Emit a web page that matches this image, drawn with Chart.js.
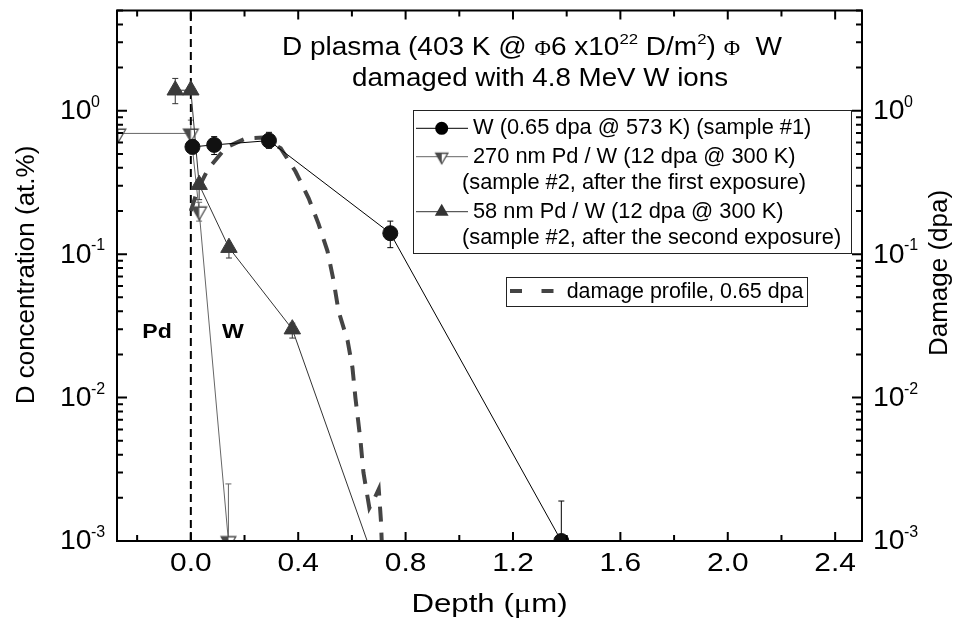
<!DOCTYPE html>
<html>
<head>
<meta charset="utf-8">
<script src="https://cdn.jsdelivr.net/npm/chart.js@4.4.1/dist/chart.umd.min.js"></script>
<style>
  html, body { margin: 0; padding: 0; background: #fff; }
  #wrap { width: 967px; height: 626px; }
</style>
</head>
<body>
<div id="wrap"><canvas id="chart"></canvas></div>
<script>

// ---- data ----

// W (0.65 dpa @ 573 K) (sample #1)
const wDepth = [0.006, 0.087, 0.291, 0.743, 1.38];
const wConc  = [0.56, 0.578, 0.619, 0.140, 0.001];
const wErrHi = [0.63, 0.66, 0.707, 0.17, 0.0019];
const wErrLo = [0.50, 0.495, 0.547, 0.111, 0.001];

// 270 nm Pd / W (12 dpa @ 300 K), first exposure
const pd270Depth = [-0.27, 0.0, 0.031, 0.14];
const pd270Conc  = [0.695, 0.695, 0.199, 0.001];
const pd270ErrHi = [null, 0.86, 0.23, 0.0025];
const pd270ErrLo = [null, 0.60, 0.17, 0.001];

// 58 nm Pd / W (12 dpa @ 300 K), second exposure
const pd58Depth = [-0.058, 0.0, 0.031, 0.142, 0.378, 0.657];
const pd58Conc  = [1.39, 1.39, 0.305, 0.111, 0.030, 0.001];
const pd58ErrHi = [1.68, null, 0.33, 0.12, 0.033, null];
const pd58ErrLo = [1.12, null, 0.24, 0.094, 0.026, null];

// damage profile, 0.65 dpa (right axis)
const dmgDepth = [0.0, 0.025, 0.063, 0.13, 0.204, 0.268, 0.335, 0.39, 0.439, 0.476, 0.509,
                  0.532, 0.55, 0.584, 0.602, 0.613, 0.632, 0.643, 0.665, 0.685, 0.70, 0.708, 0.712];
const dmgDpa   = [0.20, 0.28, 0.389, 0.553, 0.64, 0.65, 0.547, 0.377, 0.245, 0.162, 0.105,
                  0.065, 0.0402, 0.0249, 0.0162, 0.010, 0.0050, 0.0030, 0.0017, 0.0020, 0.0023, 0.0014, 0.0009];

// Pd / W interface
const interfaceDepth = [0, 0];
const interfaceConc  = [0.001, 5];

// axes
const xMin = -0.275, xMax = 2.5;
const yMin = 0.001, yMax = 5;
const xTickValues = [0, 0.4, 0.8, 1.2, 1.6, 2.0, 2.4];
const xTickLabels = ['0.0', '0.4', '0.8', '1.2', '1.6', '2.0', '2.4'];
const xMinorValues = [-0.2, 0.2, 0.6, 1.0, 1.4, 1.8, 2.2];
const yTickValues = [0.001, 0.01, 0.1, 1];
const yTickExps = ['-3', '-2', '-1', '0'];


const SANS = "'Liberation Sans', Arial, sans-serif";
const SERIF = "'Liberation Serif', 'Times New Roman', serif";


/**
* Build {x, y} points from two arrays.
*/
function points(xs, ys) {
    return xs.map((x, i) => ({ x: x, y: ys[i] }));
}


/**
* Half filled, downward triangle used for the 270 nm series.
*/
function halfTriangle(r) {
    const size = Math.ceil(2 * r + 4);
    const c = document.createElement('canvas');
    c.width = size;
    c.height = size;
    const g = c.getContext('2d');
    const cx = size / 2, cy = size / 2;
    g.beginPath();
    g.moveTo(cx - r * 0.866, cy - r * 0.5);
    g.lineTo(cx + r * 0.866, cy - r * 0.5);
    g.lineTo(cx, cy + r);
    g.closePath();
    g.fillStyle = '#fff';
    g.fill();
    g.save();
    g.clip();
    g.fillStyle = '#4a4a4a';
    g.fillRect(0, 0, cx, size);
    g.restore();
    g.strokeStyle = '#4a4a4a';
    g.lineWidth = 1.3;
    g.stroke();
    return c;
}

const downTri = halfTriangle(8.5);
const downTriSmall = halfTriangle(7);


/**
* Draw a run of text pieces (font changes, superscripts), stretched by sx.
*/
function textRun(ctx, parts, x, y, align, sx) {
    let total = 0;
    const widths = parts.map(p => {
        ctx.font = p[1];
        const w = ctx.measureText(p[0]).width;
        total += w;
        return w;
    });
    if (sx < 0) {
        sx = -sx / total;   // negative sx means: fit to this width
    }
    let start = x;
    if (align === 'center') start = x - total * sx / 2;
    if (align === 'right') start = x - total * sx;
    ctx.save();
    ctx.textAlign = 'left';
    ctx.translate(start, y);
    ctx.scale(sx, 1);
    let cx = 0;
    parts.forEach((p, i) => {
        ctx.font = p[1];
        ctx.fillText(p[0], cx, p[2] || 0);
        cx += widths[i];
    });
    ctx.restore();
}


/**
* Error bars, drawn under the markers.
*/
const errorBarPlugin = {
    id: 'errorBars',
    beforeDatasetsDraw(chart) {
        const ctx = chart.ctx;
        const area = chart.chartArea;
        ctx.save();
        ctx.beginPath();
        ctx.rect(area.left, area.top, area.right - area.left, area.bottom - area.top);
        ctx.clip();
        chart.data.datasets.forEach((ds, i) => {
            if (!ds.errHi) return;
            const meta = chart.getDatasetMeta(i);
            ctx.strokeStyle = ds.borderColor;
            ctx.lineWidth = 1;
            ds.data.forEach((p, j) => {
                if (ds.errHi[j] == null) return;
                const px = meta.xScale.getPixelForValue(p.x);
                const hi = meta.yScale.getPixelForValue(ds.errHi[j]);
                const lo = meta.yScale.getPixelForValue(ds.errLo[j]);
                ctx.beginPath();
                ctx.moveTo(px, hi);
                ctx.lineTo(px, lo);
                ctx.moveTo(px - 3, hi);
                ctx.lineTo(px + 3, hi);
                ctx.moveTo(px - 3, lo);
                ctx.lineTo(px + 3, lo);
                ctx.stroke();
            });
        });
        ctx.restore();
    }
};


/**
* Frame, inward ticks, tick labels, axis titles, annotations and legends.
*/
const framePlugin = {
    id: 'frame',
    afterDraw(chart) {
        const ctx = chart.ctx;
        const { left, right, top, bottom } = chart.chartArea;
        const xs = chart.scales.x;
        const ys = chart.scales.y;
        ctx.save();
        ctx.fillStyle = '#000';
        ctx.strokeStyle = '#000';

        //
        // Box and ticks.
        //
        ctx.lineWidth = 2;
        ctx.strokeRect(left, top, right - left, bottom - top);
        ctx.beginPath();
        xTickValues.concat(xMinorValues).forEach(v => {
            const px = xs.getPixelForValue(v);
            const len = xTickValues.includes(v) ? 9 : 6;
            ctx.moveTo(px, bottom);
            ctx.lineTo(px, bottom - len);
            ctx.moveTo(px, top);
            ctx.lineTo(px, top + len);
        });
        yTickValues.forEach(dec => {
            for (let m = 1; m <= 9; m++) {
                const v = dec * m;
                if (v > yMax) break;
                const py = ys.getPixelForValue(v);
                const len = m === 1 ? 10 : 6;
                ctx.moveTo(left, py);
                ctx.lineTo(left + len, py);
                ctx.moveTo(right, py);
                ctx.lineTo(right - len, py);
            }
        });
        ctx.stroke();

        //
        // Tick labels.
        //
        ctx.textBaseline = 'middle';
        xTickValues.forEach((v, i) => {
            textRun(ctx, [[xTickLabels[i], '26px ' + SANS]], xs.getPixelForValue(v), 564, 'center', 1.15);
        });
        yTickValues.forEach((v, i) => {
            const py = ys.getPixelForValue(v);
            [60, 873].forEach(lx => {
                ctx.textBaseline = 'middle';
                textRun(ctx, [['10', '27px ' + SANS]], lx, py + 1, 'left', 1.05);
                ctx.textBaseline = 'alphabetic';
                textRun(ctx, [[yTickExps[i], '16px ' + SANS]], lx + 31, py - 4, 'left', 1.0);
            });
        });

        //
        // Axis titles.
        //
        ctx.textBaseline = 'alphabetic';
        textRun(ctx, [['Depth (', '26px ' + SANS], ['\u03bc', '27px ' + SERIF], ['m)', '26px ' + SANS]],
            (left + right) / 2, 612, 'center', 1.2);
        ctx.textBaseline = 'middle';
        ctx.save();
        ctx.translate(27, 275);
        ctx.rotate(-Math.PI / 2);
        textRun(ctx, [['D concentration (at.%)', '26px ' + SANS]], 0, 0, 'center', 1);
        ctx.restore();
        ctx.save();
        ctx.translate(940, 273);
        ctx.rotate(-Math.PI / 2);
        textRun(ctx, [['Damage (dpa)', '26px ' + SANS]], 0, 0, 'center', 1);
        ctx.restore();

        //
        // Title and region labels.
        //
        ctx.textBaseline = 'alphabetic';
        const f25 = '25px ' + SANS;
        textRun(ctx, [
            ['D plasma (403 K @ ', f25],
            ['\u03a6', '20px ' + SERIF],
            ['6 x10', f25],
            ['22', '15px ' + SANS, -11],
            [' D/m', f25],
            ['2', '15px ' + SANS, -11],
            [') ', f25],
            ['\u03a6', '20px ' + SERIF],
            ['  W', f25]
        ], 282, 55, 'left', -500);
        textRun(ctx, [['damaged with 4.8 MeV W ions', f25]], 352, 86, 'left', -376);
        ctx.textBaseline = 'middle';
        textRun(ctx, [['Pd', 'bold 21px ' + SANS]], 157, 332, 'center', 1.1);
        textRun(ctx, [['W', 'bold 21px ' + SANS]], 233, 332, 'center', 1.1);

        //
        // Legend box with the three series.
        //
        ctx.lineWidth = 1;
        ctx.strokeStyle = '#222';
        ctx.strokeRect(413.5, 110.5, 438, 143);
        const rows = [128.3, 156.7, 183.3, 211.7, 238.3];
        const lf = '21.8px ' + SANS;
        [[rows[0], '#000'], [rows[1], '#666'], [rows[3], '#333']].forEach(r => {
            ctx.strokeStyle = r[1];
            ctx.beginPath();
            ctx.moveTo(416, r[0]);
            ctx.lineTo(468, r[0]);
            ctx.stroke();
        });
        ctx.fillStyle = '#000';
        ctx.beginPath();
        ctx.arc(441.7, rows[0], 6.5, 0, Math.PI * 2);
        ctx.fill();
        ctx.drawImage(downTriSmall, 441.7 - downTriSmall.width / 2, rows[1] - downTriSmall.height / 2);
        ctx.fillStyle = '#333';
        ctx.beginPath();
        ctx.moveTo(441.7, rows[3] - 8);
        ctx.lineTo(441.7 + 6.9, rows[3] + 4);
        ctx.lineTo(441.7 - 6.9, rows[3] + 4);
        ctx.closePath();
        ctx.fill();
        ctx.fillStyle = '#000';
        textRun(ctx, [['W (0.65 dpa @ 573 K) (sample #1)', lf]], 473, rows[0], 'left', 1);
        textRun(ctx, [['270 nm Pd / W (12 dpa @ 300 K)', lf]], 473, rows[1], 'left', 1);
        textRun(ctx, [['(sample #2, after the first exposure)', lf]], 462, rows[2], 'left', 1);
        textRun(ctx, [['58 nm Pd / W (12 dpa @ 300 K)', lf]], 473, rows[3], 'left', 1);
        textRun(ctx, [['(sample #2, after the second exposure)', lf]], 462, rows[4], 'left', 1);

        //
        // Legend box for the damage profile.
        //
        ctx.strokeStyle = '#222';
        ctx.lineWidth = 1;
        ctx.strokeRect(506.5, 277.5, 301, 29);
        ctx.strokeStyle = '#444';
        ctx.lineWidth = 4;
        ctx.beginPath();
        ctx.moveTo(510, 291);
        ctx.lineTo(522, 291);
        ctx.moveTo(541.5, 291);
        ctx.lineTo(553.5, 291);
        ctx.stroke();
        textRun(ctx, [['damage profile, 0.65 dpa', '21.4px ' + SANS]], 566.7, 292, 'left', 1);

        ctx.restore();
    }
};


const chart = new Chart(document.getElementById('chart'), {
    type: 'line',
    data: {
        datasets: [
            {
                label: 'W (0.65 dpa @ 573 K) (sample #1)',
                data: points(wDepth, wConc),
                errHi: wErrHi,
                errLo: wErrLo,
                borderColor: '#000',
                borderWidth: 1,
                pointStyle: 'circle',
                pointRadius: 7.5,
                pointBackgroundColor: '#111',
                pointBorderColor: '#111',
                clip: 0,
            },
            {
                label: '58 nm Pd / W (12 dpa @ 300 K)',
                data: points(pd58Depth, pd58Conc),
                errHi: pd58ErrHi,
                errLo: pd58ErrLo,
                borderColor: '#333',
                borderWidth: 1,
                pointStyle: 'triangle',
                pointRadius: [9.5, 9.5, 9.5, 9.5, 9.5, 0],
                pointBackgroundColor: '#3a3a3a',
                pointBorderColor: '#3a3a3a',
                clip: 0,
            },
            {
                label: '270 nm Pd / W (12 dpa @ 300 K)',
                data: points(pd270Depth, pd270Conc),
                errHi: pd270ErrHi,
                errLo: pd270ErrLo,
                borderColor: '#666',
                borderWidth: 1,
                pointStyle: downTri,
                pointRadius: 8.5,
                clip: 0,
            },
            {
                label: 'damage profile, 0.65 dpa',
                data: points(dmgDepth, dmgDpa),
                yAxisID: 'y2',
                borderColor: '#444',
                borderWidth: 4,
                borderDash: [15, 11],
                borderCapStyle: 'butt',
                pointRadius: 0,
                clip: 0,
            },
            {
                label: 'interface',
                data: points(interfaceDepth, interfaceConc),
                borderColor: '#000',
                borderWidth: 2,
                borderDash: [8, 5],
                pointRadius: 0,
                clip: 0,
            },
        ]
    },
    options: {
        responsive: true,
        maintainAspectRatio: false,
        devicePixelRatio: 1,
        animation: false,
        layout: { padding: { top: 8, left: 0, right: 0, bottom: 0 } },
        elements: { line: { tension: 0, fill: false } },
        plugins: {
            legend: { display: false },
            tooltip: { enabled: false },
        },
        scales: {
            x: {
                type: 'linear', min: xMin, max: xMax,
                grid: { display: false }, ticks: { display: false }, border: { display: false },
                afterFit: (s) => { s.height = 85; },
            },
            y: {
                type: 'logarithmic', position: 'left', min: yMin, max: yMax,
                grid: { display: false }, ticks: { display: false }, border: { display: false },
                afterFit: (s) => { s.width = 117; },
            },
            y2: {
                type: 'logarithmic', position: 'right', min: yMin, max: yMax,
                grid: { display: false }, ticks: { display: false }, border: { display: false },
                afterFit: (s) => { s.width = 105; },
            },
        },
    },
    plugins: [errorBarPlugin, framePlugin],
});

</script>
</body>
</html>
